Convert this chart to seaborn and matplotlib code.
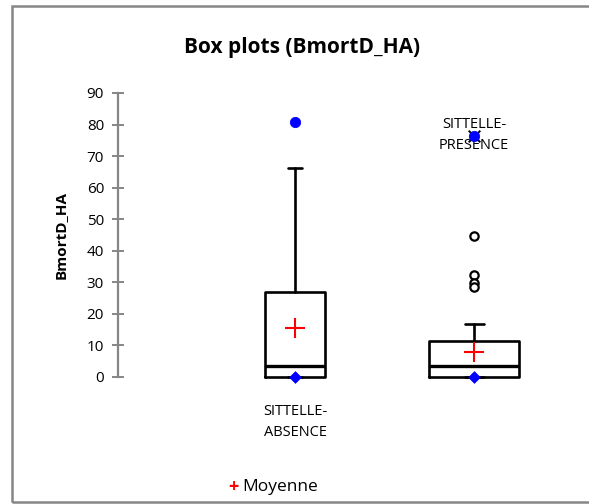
import matplotlib
matplotlib.use("Agg")
import matplotlib.pyplot as plt
import seaborn as sns
import pandas as pd
from matplotlib.patches import Rectangle

# ---- data ----
categories = ["SITTELLE-\nABSENCE", "SITTELLE-\nPRESENCE"]
q1 = [0.0, 0.0]
medians = [3.6, 3.4]
q3 = [26.8, 11.3]
whisker_low = [0.0, 0.0]
whisker_high = [66.2, 16.9]
means = [15.6, 7.8]
minimums = [0.0, 0.0]
maximums = [80.7, 76.4]
outliers_presence = [44.8, 32.3, 29.9, 28.4]
yticks = [0, 10, 20, 30, 40, 50, 60, 70, 80, 90]

sns.set_theme(style="white")
plt.rcParams["font.family"] = ["Open Sans", "DejaVu Sans"]
plt.rcParams["text.color"] = "black"
plt.rcParams["axes.labelcolor"] = "black"

fig = plt.figure(figsize=(5.89, 5.04), dpi=100)
W, H = 589, 504
ax_left, ax_right, ax_top, ax_bottom = 118, 575, 93, 377
ax = fig.add_axes([ax_left / W, (H - ax_bottom) / H,
                   (ax_right - ax_left) / W, (ax_bottom - ax_top) / H])

positions = [0, 1]
widths = [0.34, 0.50]
capw = [0.078, 0.106]
GRAY = "#868686"

for i in range(2):
    stats = [dict(med=medians[i], q1=q1[i], q3=q3[i],
                  whislo=whisker_low[i], whishi=whisker_high[i], fliers=[])]
    arts = ax.bxp(stats, positions=[positions[i]], widths=widths[i],
                  showfliers=False, capwidths=capw[i],
                  boxprops=dict(color="black", linewidth=1.9),
                  whiskerprops=dict(color="black", linewidth=1.9),
                  capprops=dict(color="black", linewidth=1.9),
                  medianprops=dict(color="black", linewidth=2.4),
                  manage_ticks=False)
    for key in arts:
        for a in arts[key]:
            a.set_clip_on(False)

df_out = pd.DataFrame({"x": [1] * len(outliers_presence), "y": outliers_presence})
sns.scatterplot(data=df_out, x="x", y="y", ax=ax, marker="o", s=36,
                facecolor="white", edgecolor="black", linewidth=1.6, zorder=5,
                legend=False)

# extreme marker behind max of second group
sns.scatterplot(x=[positions[1]], y=[maximums[1]], ax=ax, marker="x", s=70,
                color="black", linewidth=1.4, zorder=5, legend=False)

df_max = pd.DataFrame({"x": positions, "y": maximums})
sns.scatterplot(data=df_max, x="x", y="y", ax=ax, marker="o", s=55,
                color="#0000FF", edgecolor="#0000FF", zorder=6, legend=False)
df_min = pd.DataFrame({"x": positions, "y": minimums})
sns.scatterplot(data=df_min, x="x", y="y", ax=ax, marker="D", s=36,
                color="#0000FF", edgecolor="#0000FF", zorder=6, legend=False,
                clip_on=False)
df_mean = pd.DataFrame({"x": positions, "y": means})
sns.scatterplot(data=df_mean, x="x", y="y", ax=ax, marker="+", s=220,
                color="#FF0000", linewidth=1.5, zorder=6, legend=False)

ax.set_xlim(-0.989, 1.564)
ax.set_ylim(0, 90)
ax.set_yticks(yticks)
ax.set_xticks([])
ax.set_xlabel("")
ax.set_ylabel("BmortD_HA", fontsize=11, fontweight="bold", labelpad=14)
for s in ["top", "right", "bottom"]:
    ax.spines[s].set_visible(False)
ax.spines["left"].set_color(GRAY)
ax.spines["left"].set_linewidth(1.6)
ax.tick_params(axis="y", direction="inout", length=8, width=1.4, color=GRAY,
               labelsize=11, labelcolor="black", pad=6, left=True)

# category labels
ax.text(positions[0], -8.7, categories[0], ha="center", va="top",
        fontsize=10.5, linespacing=1.5)
ax.text(positions[1], 82.3, categories[1], ha="center", va="top",
        fontsize=10.5, linespacing=1.5, zorder=1)

fig.text(302 / W, 1 - 47 / H, "Box plots (BmortD_HA)", ha="center",
         va="center", fontsize=15, fontweight="bold")

# legend
fig.text(233 / W, 1 - 487 / H, "+", color="#FF0000", ha="center",
         va="center", fontsize=13, fontweight="bold")
fig.text(242 / W, 1 - 487 / H, "Moyenne", ha="left", va="center",
         fontsize=12.5)

fig.patches.append(Rectangle((12 / W, 1 - 502 / H), 1.2, (502 - 6) / H,
                             transform=fig.transFigure, fill=False,
                             edgecolor=GRAY, linewidth=1.8, clip_on=False))

fig.savefig("out.png", dpi=100)
